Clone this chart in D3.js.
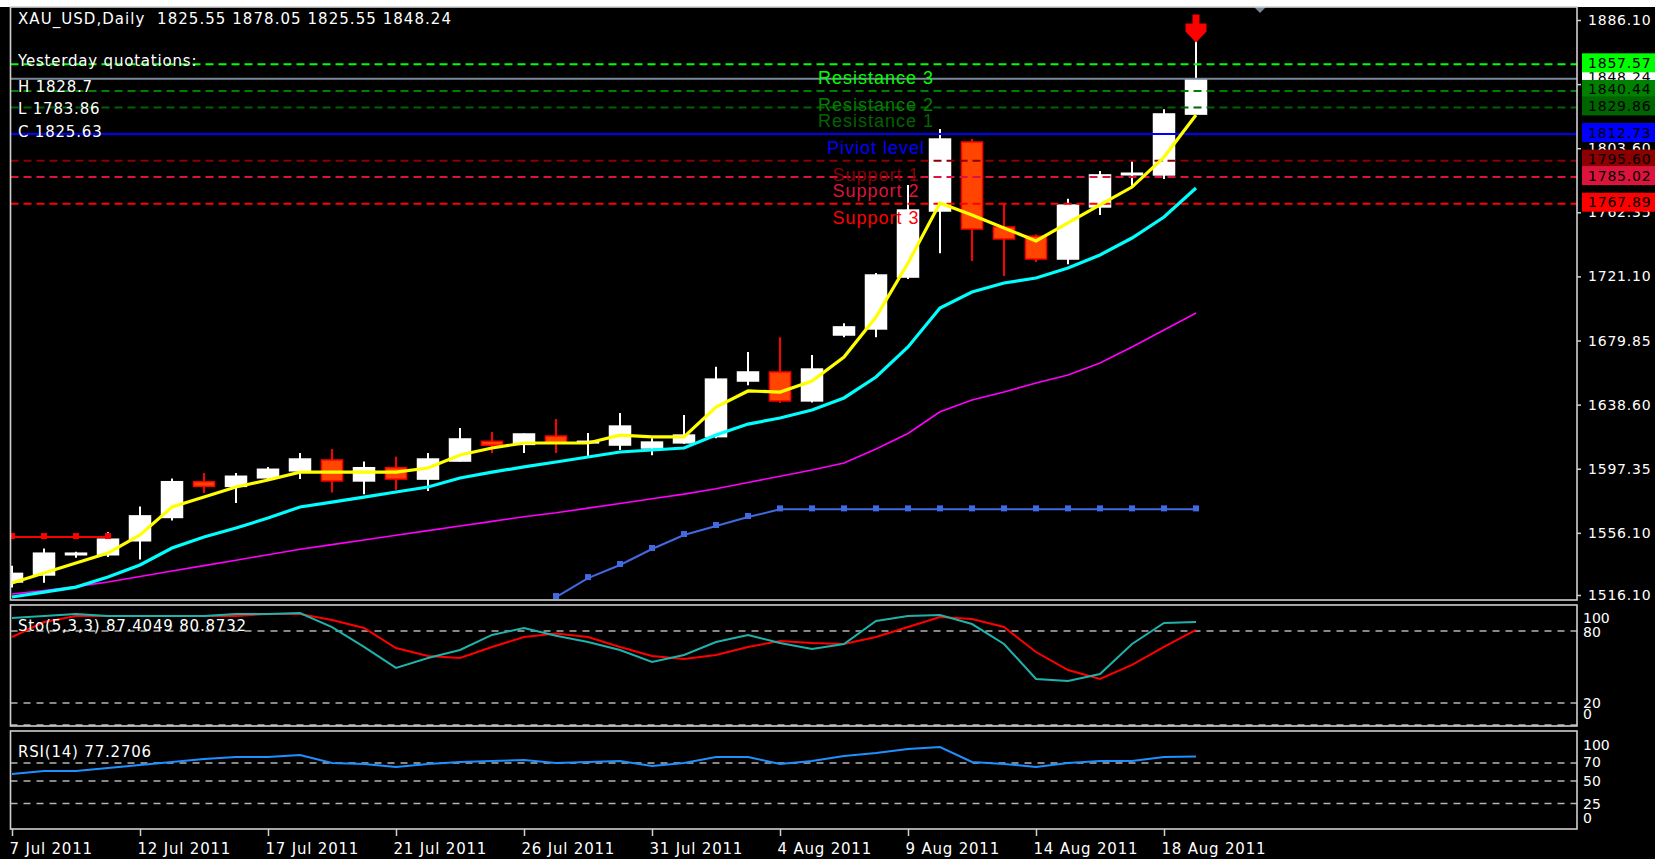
<!DOCTYPE html>
<html><head><meta charset="utf-8">
<script src="https://cdn.jsdelivr.net/npm/d3@7"></script>
<style>
html,body{margin:0;padding:0;background:#000;overflow:hidden}
svg{display:block}
text{font-family:"DejaVu Sans",sans-serif;white-space:pre}
</style></head><body>
<svg id="c" width="1655" height="859"></svg>
<script>
// ---------------- DATA ----------------
const dates = ["7 Jul 2011","8 Jul 2011","10 Jul 2011","11 Jul 2011","12 Jul 2011","13 Jul 2011","14 Jul 2011","15 Jul 2011",
  "17 Jul 2011","18 Jul 2011","19 Jul 2011","20 Jul 2011","21 Jul 2011","22 Jul 2011","24 Jul 2011","25 Jul 2011",
  "26 Jul 2011","27 Jul 2011","28 Jul 2011","29 Jul 2011","31 Jul 2011","1 Aug 2011","2 Aug 2011","3 Aug 2011",
  "4 Aug 2011","5 Aug 2011","7 Aug 2011","8 Aug 2011","9 Aug 2011","10 Aug 2011","11 Aug 2011","12 Aug 2011",
  "14 Aug 2011","15 Aug 2011","16 Aug 2011","17 Aug 2011","18 Aug 2011","19 Aug 2011"];
const open  = [1524.5,1529,1542,1542,1551,1566,1589,1586,1591.5,1596,1603,1589.5,1598,1590.7,1602.3,1615,1613,1618.4,1614,1612.6,
  1610.7,1614,1618,1653.8,1659.6,1641,1683.4,1687.3,1720.7,1763.2,1807.6,1752.9,1747,1732.3,1765.8,1786.5,1786.4,1825.55];
const high  = [1535,1546,1544,1556.5,1573,1591,1594.6,1594.6,1598.5,1607.5,1610,1602,1605,1607.5,1623.6,1621,1620,1629.3,1620.3,1633.2,
  1617,1632,1663,1672.5,1682,1670.5,1691,1723.3,1780,1816,1809.5,1768.3,1748,1771,1789,1795.4,1828.7,1878.05];
const low   = [1521,1524,1540,1540.5,1539,1564,1581.7,1575.3,1590,1590.7,1582,1581,1583.7,1583,1602,1607.5,1607.5,1607.5,1604.9,1609.4,
  1606,1613.5,1617,1651,1639.6,1640,1682,1682,1719.4,1736,1731,1721.4,1730.4,1729,1760.6,1778.6,1783.86,1825.55];
const close = [1530,1543,1543,1552,1567,1589,1586,1592.5,1597,1603.6,1589.5,1598,1590.7,1603.6,1616.5,1612.5,1619.7,1614,1615,1624.8,
  1614.5,1619,1655,1659.6,1641,1661.5,1688.6,1722,1763.8,1809.5,1751.6,1745.2,1732.3,1767,1786.4,1787.5,1825.63,1848.24];

const maFast = [1523.8,1530.2,1536.7,1543.1,1554.7,1572.7,1579.1,1585.6,1590.1,1595.2,1595.2,1595.2,1595.2,1597.8,1606.2,1610.7,
  1613.9,1613.9,1613.9,1619.0,1617.8,1617.8,1637.1,1647.4,1646.7,1653.8,1669.2,1695.0,1729.7,1768.3,1760.6,1752.3,1743.9,1755.5,
  1767.1,1778.6,1797.9,1825.0];
const maMid = [1514.8,1518.0,1521.2,1527.7,1535.4,1546.3,1553.4,1559.2,1565.6,1572.7,1575.9,1579.1,1582.4,1585.6,1591.4,1595.2,
  1598.5,1601.7,1604.9,1608.1,1609.4,1610.7,1619.0,1626.1,1630.0,1635.1,1642.9,1656.4,1675.7,1700.8,1711.1,1716.9,1720.1,1726.5,
  1734.9,1745.8,1759.3,1778.0];
const maSlow = [1516.7,1519.0,1521.5,1524.5,1528.0,1531.5,1535.0,1538.5,1542.0,1545.5,1548.5,1551.5,1554.5,1557.5,1560.5,1563.5,
  1566.5,1569.0,1572.0,1575.0,1578.0,1581.0,1584.5,1588.5,1592.5,1596.5,1601.0,1610.0,1620.0,1634.0,1641.6,1646.7,1652.5,1657.7,
  1665.4,1675.7,1686.6,1697.6];

const stopDown = [1553.4,1553.4,1553.4,1553.4,null,null,null,null,null,null,null,null,null,null,null,null,null,null,null,null,
  null,null,null,null,null,null,null,null,null,null,null,null,null,null,null,null,null,null];
const stopUp = [null,null,null,null,null,null,null,null,null,null,null,null,null,null,null,null,null,1514.8,1527.0,1535.4,
  1545.7,1554.7,1560.5,1566.3,1571.2,1571.2,1571.2,1571.2,1571.2,1571.2,1571.2,1571.2,1571.2,1571.2,1571.2,1571.2,1571.2,1571.2];

const stochMain = [90.8,92.5,94.2,92.5,92.5,92.5,92.5,94.2,94.2,95.0,83.3,66.7,49.2,57.5,64.2,76.7,82.5,76.0,70.8,64.2,
  54.2,60.0,70.8,76.7,70.0,65.0,69.2,88.3,92.5,93.3,85.8,69.2,40.0,38.3,44.2,69.2,86.7,87.4049];
const stochSignal = [75.0,87.5,92.5,92.5,92.5,92.5,92.5,92.5,94.2,94.2,89.2,82.5,65.8,59.2,57.5,66.7,75.0,78.0,75.0,66.7,
  59.2,56.7,60.0,66.7,71.7,70.0,69.2,75.0,83.3,91.7,90.0,83.3,62.5,47.5,40.0,51.7,66.7,80.8732];
const rsi = [57.8,61.1,61.1,64.4,67.8,71.1,74.4,76.7,76.7,78.9,70.0,68.9,65.6,68.9,71.1,72.2,73.3,70.0,71.1,72.2,
  66.7,70.0,76.7,76.7,68.9,72.2,77.8,81.1,85.6,87.8,71.1,68.9,65.6,70.0,72.2,72.2,76.7,77.2706];

const pivotNames  = ["Resistance 3","Resistance 2","Resistance 1","Piviot level","Support 1","Support 2","Support 3"];
const pivotValues = [1857.57,1840.44,1829.86,1812.73,1795.60,1785.02,1767.89];

const priceTicks = [1886.10,1844.85,1803.60,1762.35,1721.10,1679.85,1638.60,1597.35,1556.10,1516.10];
const stochLevels = [80,20];
const rsiLevels = [70,50,25];
const dateTicks = ["7 Jul 2011","12 Jul 2011","17 Jul 2011","21 Jul 2011","26 Jul 2011","31 Jul 2011","4 Aug 2011","9 Aug 2011","14 Aug 2011","18 Aug 2011"];

const titleText = "XAU_USD,Daily  1825.55 1878.05 1825.55 1848.24";
const yestLines = ["Yesterday quotations:","H 1828.7","L 1783.86","C 1825.63"];
const stochTitle = "Sto(5,3,3) 87.4049 80.8732";
const rsiTitle = "RSI(14) 77.2706";
const bidPrice = 1848.24;

// ---------------- STYLES / LAYOUT ----------------
const pivotColors = ["#00ff00","#008000","#006400","#0000ff","#8b0000","#dc143c","#ff0000"];
const W = 1655, H = 859, L = 10.5, R = 1577;
const P = {main:[7,600], sto:[605,726], rsi:[731,829]};
const FONT = "DejaVu Sans";

const svg = d3.select("#c");
svg.append("rect").attr("width",W).attr("height",H).attr("fill","#000");
svg.append("rect").attr("width",W).attr("height",7).attr("fill","#fff");

const defs = svg.append("defs");
Object.entries(P).forEach(([k,[t,b]])=>{
  defs.append("clipPath").attr("id","clip-"+k).append("rect")
    .attr("x",L).attr("y",t).attr("width",R-L).attr("height",b-t);
});

const x  = d3.scalePoint().domain(dates).range([12,1196]);
const yP = d3.scaleLinear().domain([1516.10,1886.10]).range([595,20]);
const yS = d3.scaleLinear().domain([0,100]).range([727,607]);
const yR = d3.scaleLinear().domain([0,100]).range([826,736]);

const bars = dates.map((d,i)=>({d,i,o:open[i],h:high[i],l:low[i],c:close[i]}));
const up = d => d.c >= d.o;

// ---------------- MAIN PANEL ----------------
const gm = svg.append("g").attr("clip-path","url(#clip-main)");

gm.selectAll("line.wick").data(bars).join("line").attr("class","wick")
  .attr("x1",d=>x(d.d)).attr("x2",d=>x(d.d))
  .attr("y1",d=>yP(d.h)).attr("y2",d=>yP(d.l))
  .attr("stroke",d=>up(d)?"#ffffff":"#ff0000").attr("stroke-width",2);
gm.selectAll("rect.body").data(bars).join("rect").attr("class","body")
  .attr("x",d=>x(d.d)-10.5).attr("width",21)
  .attr("y",d=>yP(Math.max(d.o,d.c)))
  .attr("height",d=>Math.max(1.5,Math.abs(yP(d.o)-yP(d.c))))
  .attr("fill",d=>up(d)?"#ffffff":"#ff4500")
  .attr("stroke",d=>up(d)?"#ffffff":"#ff0000").attr("stroke-width",1.5);

gm.append("line").attr("x1",L).attr("x2",R).attr("y1",yP(bidPrice)).attr("y2",yP(bidPrice))
  .attr("stroke","#778899").attr("stroke-width",2);

pivotValues.forEach((v,i)=>{
  gm.append("line").attr("x1",L).attr("x2",R).attr("y1",yP(v)).attr("y2",yP(v))
    .attr("stroke",pivotColors[i]).attr("stroke-width",2)
    .attr("stroke-dasharray", i===3 ? null : "8,5");
});

const lineP = arr => d3.line().x((v,i)=>x(dates[i])).y(v=>yP(v))(arr);
gm.append("path").attr("d",lineP(maSlow)).attr("fill","none").attr("stroke","#ff00ff").attr("stroke-width",1.6);
gm.append("path").attr("d",lineP(maMid)).attr("fill","none").attr("stroke","#00ffff").attr("stroke-width",3.2);
gm.append("path").attr("d",lineP(maFast)).attr("fill","none").attr("stroke","#ffff00").attr("stroke-width",3.2);

function stopLine(arr,color){
  const ln = d3.line().defined(v=>v!==null).x((v,i)=>x(dates[i])).y(v=>yP(v));
  gm.append("path").attr("d",ln(arr)).attr("fill","none").attr("stroke",color).attr("stroke-width",2);
  const pts = arr.map((v,i)=>({v,d:dates[i]})).filter(p=>p.v!==null);
  gm.selectAll(null).data(pts).join("rect")
    .attr("x",p=>x(p.d)-3).attr("y",p=>yP(p.v)-4).attr("width",6).attr("height",6).attr("fill",color);
}
stopLine(stopDown,"#ff0000");
stopLine(stopUp,"#4169e1");

pivotNames.forEach((n,i)=>{
  gm.append("text").attr("x",x(dates[27])).attr("y",yP(pivotValues[i])+20)
    .attr("text-anchor","middle").attr("fill",pivotColors[i])
    .style("font-family","Liberation Sans, Arial, sans-serif").style("font-size","18px").style("letter-spacing","1px")
    .text(n);
});

{
  const cx = x(dates[37]), ty = yP(high[37]) + 10;
  gm.append("path").attr("fill","#ff0000")
    .attr("d",`M${cx-3.5},${ty-28} L${cx+3.5},${ty-28} L${cx+3.5},${ty-19} L${cx+10.5},${ty-19} L${cx+10.5},${ty-11} L${cx},${ty} L${cx-10.5},${ty-11} L${cx-10.5},${ty-19} L${cx-3.5},${ty-19} Z`);
}
svg.append("path").attr("d","M1254,7 L1266,7 L1260,13 Z").attr("fill","#778899");

const txt = (xx,yy,s,col,size,ls) => svg.append("text").attr("x",xx).attr("y",yy).attr("fill",col||"#fff")
  .style("font-size",(size||15)+"px").style("letter-spacing",(ls||0.8)+"px").attr("dominant-baseline","central").text(s);
txt(18,19,titleText,"#fff",15,1.05);
const yestY = [61,87,109,132];
yestLines.forEach((s,i)=>txt(18,yestY[i],s));

// ---------------- STOCH PANEL ----------------
const gs = svg.append("g").attr("clip-path","url(#clip-sto)");
stochLevels.concat([0]).forEach(v=>{
  gs.append("line").attr("x1",L).attr("x2",R).attr("y1",yS(v)-(v===0?2:0)).attr("y2",yS(v)-(v===0?2:0))
    .attr("stroke","#b4b4b4").attr("stroke-width",1.6).attr("stroke-dasharray","7,6");
});
const lineS = d3.line().x((v,i)=>x(dates[i])).y(v=>yS(v));
gs.append("path").attr("d",lineS(stochSignal)).attr("fill","none").attr("stroke","#ff0000").attr("stroke-width",2);
gs.append("path").attr("d",lineS(stochMain)).attr("fill","none").attr("stroke","#20b2aa").attr("stroke-width",2);
txt(18,626,stochTitle);

// ---------------- RSI PANEL ----------------
const gr = svg.append("g").attr("clip-path","url(#clip-rsi)");
rsiLevels.forEach(v=>{
  gr.append("line").attr("x1",L).attr("x2",R).attr("y1",yR(v)).attr("y2",yR(v))
    .attr("stroke","#b4b4b4").attr("stroke-width",1.6).attr("stroke-dasharray","7,6");
});
const lineR = d3.line().x((v,i)=>x(dates[i])).y(v=>yR(v));
gr.append("path").attr("d",lineR(rsi)).attr("fill","none").attr("stroke","#1e90ff").attr("stroke-width",2);
txt(18,752,rsiTitle);

// ---------------- FRAMES ----------------
Object.values(P).forEach(([t,b])=>{
  svg.append("rect").attr("x",L).attr("y",t).attr("width",R-L).attr("height",b-t)
    .attr("fill","none").attr("stroke","#d0d0d0").attr("stroke-width",1.6);
});

// ---------------- RIGHT PRICE AXIS ----------------
const ga = svg.append("g").attr("transform",`translate(${R},0)`)
  .call(d3.axisRight(yP).tickValues(priceTicks).tickFormat(d3.format(".2f")).tickSize(4).tickPadding(7));
ga.select(".domain").remove();
ga.selectAll("line").attr("stroke","#d0d0d0").attr("stroke-width",1.5);
ga.selectAll("text").attr("fill","#fff").style("font-family",FONT).style("font-size","14px").style("letter-spacing","0.8px");

function priceBox(v,bg,fg){
  const yy = yP(v)-1.5;
  svg.append("rect").attr("x",1582).attr("y",yy-9.5).attr("width",80).attr("height",19).attr("fill",bg);
  svg.append("text").attr("x",1588).attr("y",yy).attr("dominant-baseline","central").attr("fill",fg)
    .style("font-size","14px").style("letter-spacing","0.8px").text(d3.format(".2f")(v));
}
priceBox(bidPrice,"#ffffff","#000");
pivotValues.forEach((v,i)=>priceBox(v,pivotColors[i],"#000"));

const sideLbl = (yy,s) => svg.append("text").attr("x",1583).attr("y",yy).attr("dominant-baseline","central")
  .attr("fill","#fff").style("font-size","14px").text(s);
sideLbl(yS(91),"100"); sideLbl(yS(79),"80"); sideLbl(yS(20),"20"); sideLbl(yS(11),"0");
sideLbl(yR(90),"100"); sideLbl(yR(71),"70"); sideLbl(yR(50),"50"); sideLbl(yR(25),"25"); sideLbl(yR(9),"0");

// ---------------- DATE AXIS ----------------
const gd = svg.append("g").attr("transform",`translate(0,${P.rsi[1]})`)
  .call(d3.axisBottom(x).tickValues(dateTicks).tickSize(7).tickPadding(7));
gd.select(".domain").remove();
gd.selectAll("line").attr("stroke","#d0d0d0").attr("stroke-width",1.5);
gd.selectAll("text").attr("fill","#fff").attr("text-anchor","start").attr("dx",-3)
  .style("font-family",FONT).style("font-size","15px").style("letter-spacing","0.8px");
</script>
</body></html>
